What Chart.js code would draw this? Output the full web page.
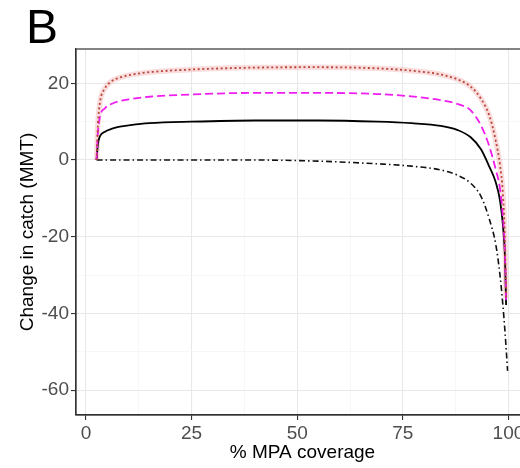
<!DOCTYPE html>
<html>
<head>
<meta charset="utf-8">
<script src="https://cdn.jsdelivr.net/npm/chart.js@4.4.1/dist/chart.umd.min.js"></script>
<style>
  html, body { margin: 0; padding: 0; background: #fff; overflow: hidden; }
  #wrap { width: 520px; height: 468px; overflow: hidden; }
</style>
</head>
<body>
<div id="wrap"><canvas id="catch_chart" width="540" height="468"></canvas></div>
<script>
// Данные (% MPA coverage -> change in catch, MMT)
const coverage    = [2.5, 2.8, 3.3, 4.5, 6, 8, 10.5, 15, 25, 40, 55, 69, 77, 84, 88, 91, 93.5, 95.5, 97, 98, 98.7, 99.2, 99.45, 99.8];
const redLine     = [0, 9, 15, 18.7, 20.5, 21.5, 22.2, 22.9, 23.6, 24.1, 24.2, 23.9, 23.3, 22.3, 21, 19.2, 16, 11.5, 5, -1.3, -9, -22, -36, null];
const magentaLine = [0, 7, 11.3, 13.5, 14.6, 15.4, 15.9, 16.5, 17.1, 17.5, 17.5, 17.2, 16.6, 15.6, 14.6, 13, 9, 3.5, -2.5, -7.5, -15, -25, -37, null];
const blackLine   = [0, 4, 6.2, 7.4, 8.1, 8.7, 9.1, 9.6, 10, 10.3, 10.3, 10, 9.6, 8.9, 7.8, 6, 2.8, -1.8, -5.8, -10.5, -17, -26, -37.8, null];
const dashDotLine = [0, 0, 0, 0, 0, 0, 0, 0, 0, 0, -0.3, -1, -1.6, -2.6, -4, -6, -9.5, -15.5, -22, -30, -38, -45, -49, -55];

const xTicks = [0, 12.5, 25, 37.5, 50, 62.5, 75, 87.5, 100];
const xLabels = [0, 25, 50, 75, 100];
const yTicks = [-60, -50, -40, -30, -20, -10, 0, 10, 20];
const yLabels = [-60, -40, -20, 0, 20];

const toPoints = (arr) => coverage.map((x, i) => ({ x: x, y: arr[i] }));

const FONT = "'Liberation Sans', Arial, Helvetica, sans-serif";

// Рамка панели и буква "B"
const panelExtras = {
  id: "panelExtras",
  afterDraw(chart) {
    const { ctx, chartArea: a } = chart;
    ctx.save();
    ctx.strokeStyle = "#333";
    ctx.lineWidth = 1.2;
    ctx.strokeRect(a.left, a.top, a.right - a.left, a.bottom - a.top);
    ctx.fillStyle = "#000";
    ctx.font = "48px " + FONT;
    ctx.textBaseline = "alphabetic";
    ctx.fillText("B", 26, 43);
    ctx.restore();
  },
};

const line = (data, color, width, dash) => ({
  data: toPoints(data),
  borderColor: color,
  borderWidth: width,
  borderDash: dash,
  pointRadius: 0,
  fill: false,
  cubicInterpolationMode: "monotone",
});

const ctx = document.getElementById("catch_chart").getContext("2d");
const myChart = new Chart(ctx, {
  type: "line",
  data: {
    datasets: [
      line(redLine, "#b8463c", 1.8, [2, 2.6]),
      line(magentaLine, "#f01cf0", 1.8, [8, 4]),
      line(blackLine, "#000000", 1.8, []),
      line(dashDotLine, "#111111", 1.6, [6, 3, 1.5, 3]),
      // розовая полоса вокруг красной линии
      line(redLine, "rgba(245, 180, 180, 0.45)", 5.5, []),
    ],
  },
  plugins: [panelExtras],
  options: {
    responsive: false,
    animation: false,
    layout: { padding: { top: 49, right: 11, bottom: 0, left: 0 } },
    plugins: { legend: { display: false }, tooltip: { enabled: false } },
    scales: {
      x: {
        type: "linear",
        min: -2.37,
        max: 104.87,
        afterBuildTicks: (s) => { s.ticks = xTicks.map((v) => ({ value: v })); },
        afterFit: (s) => { s.height = 53; },
        grid: {
          color: (c) => (xLabels.includes(c.tick.value) ? "#e8e8e8" : "#f3f3f3"),
          lineWidth: (c) => (xLabels.includes(c.tick.value) ? 1.1 : 0.7),
          tickColor: (c) => (xLabels.includes(c.tick.value) ? "#333" : "rgba(0,0,0,0)"),
          tickLength: 5,
        },
        border: { color: "#333", width: 1.2 },
        ticks: {
          color: "#4d4d4d",
          font: { family: FONT, size: 19 },
          padding: 2,
          autoSkip: false,
          maxRotation: 0,
          callback: (v) => (xLabels.includes(v) ? String(v) : ""),
        },
        title: {
          display: true,
          text: "% MPA coverage",
          color: "#000",
          font: { family: FONT, size: 19 },
          padding: { top: 0, bottom: 4 },
        },
      },
      y: {
        min: -66.5,
        max: 28.95,
        afterBuildTicks: (s) => { s.ticks = yTicks.map((v) => ({ value: v })); },
        afterFit: (s) => { s.width = 76; },
        grid: {
          color: (c) => (yLabels.includes(c.tick.value) ? "#e8e8e8" : "#f3f3f3"),
          lineWidth: (c) => (yLabels.includes(c.tick.value) ? 1.1 : 0.7),
          tickColor: (c) => (yLabels.includes(c.tick.value) ? "#333" : "rgba(0,0,0,0)"),
          tickLength: 5,
        },
        border: { color: "#333", width: 1.2 },
        ticks: {
          color: "#4d4d4d",
          font: { family: FONT, size: 19 },
          padding: 2,
          autoSkip: false,
          callback: (v) => (yLabels.includes(v) ? String(v) : ""),
        },
        title: {
          display: true,
          text: "Change in catch (MMT)",
          color: "#000",
          font: { family: FONT, size: 19 },
          padding: { top: 16, bottom: 0 },
        },
      },
    },
  },
});
</script>
</body>
</html>
